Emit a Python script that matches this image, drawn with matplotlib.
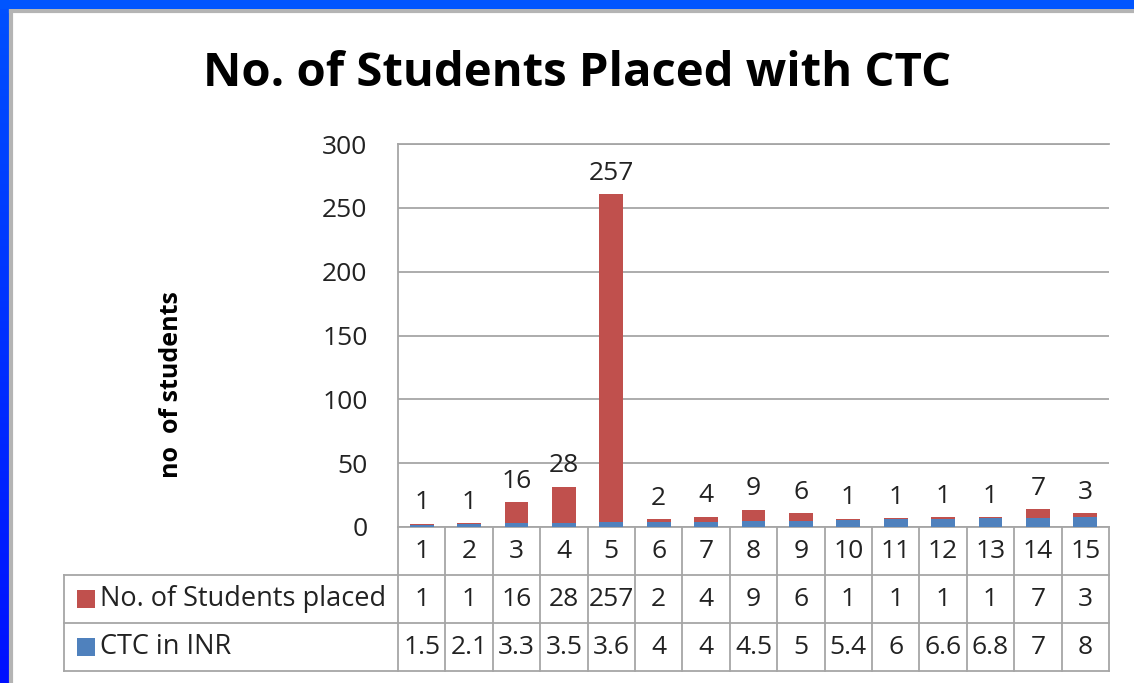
import matplotlib
matplotlib.use("Agg")
import matplotlib.pyplot as plt
import matplotlib.transforms as mtransforms
from matplotlib.lines import Line2D
from matplotlib.patches import Rectangle
from matplotlib.colors import LinearSegmentedColormap
import numpy as np

plt.rcParams['font.family'] = ['Open Sans', 'DejaVu Sans']

categories = [1, 2, 3, 4, 5, 6, 7, 8, 9, 10, 11, 12, 13, 14, 15]
students = [1, 1, 16, 28, 257, 2, 4, 9, 6, 1, 1, 1, 1, 7, 3]
ctc = [1.5, 2.1, 3.3, 3.5, 3.6, 4, 4, 4.5, 5, 5.4, 6, 6.6, 6.8, 7, 8]
series_names = ["No. of Students placed", "CTC in INR"]
yticks = [0, 50, 100, 150, 200, 250, 300]
title = "No. of Students Placed with CTC"
ylabel = "no  of students"

RED = "#C0504D"
BLUE = "#4F81BD"
GRID = "#A6A6A6"
TXT = "#222222"

W, H = 1134, 683
fig = plt.figure(figsize=(W / 100, H / 100), dpi=100)
fig.patch.set_facecolor("white")

# Blue window frame (top and left)
bax = fig.add_axes([0, 0, 9 / W, 1])
grad = np.linspace(0, 1, 100).reshape(-1, 1)
cm = LinearSegmentedColormap.from_list("b", ["#0050FF", "#0010FF"])
bax.imshow(grad, aspect="auto", cmap=cm, extent=[0, 1, 0, 1], origin="upper")
bax.set_axis_off()
fig.patches.append(Rectangle((0, 1 - 9 / H), 1, 9 / H, transform=fig.transFigure,
                             facecolor="#0055FF", edgecolor="none", zorder=5))
fig.lines.append(Line2D([11 / W, 1], [1 - 11 / H, 1 - 11 / H], transform=fig.transFigure,
                        color="#B4B4B4", lw=3, zorder=4))
fig.lines.append(Line2D([11 / W, 11 / W], [0, 1 - 11 / H], transform=fig.transFigure,
                        color="#B4B4B4", lw=3, zorder=4))

left_px, right_px, top_px, bot_px = 398, 1109, 144, 527
ax = fig.add_axes([left_px / W, 1 - bot_px / H, (right_px - left_px) / W, (bot_px - top_px) / H])
x = np.array(categories)
ax.bar(x, ctc, width=0.5, color=BLUE, zorder=3)
ax.bar(x, students, width=0.5, bottom=ctc, color=RED, zorder=3)
for xi, s, c in zip(x, students, ctc):
    ax.annotate(str(s), (xi, s + c), xytext=(0, 6), textcoords="offset points",
                ha="center", va="bottom", fontsize=19, color=TXT)

ax.set_xlim(0.5, 15.5)
ax.set_ylim(0, 300)
ax.set_yticks(yticks)
ax.set_yticklabels([str(v) for v in yticks], fontsize=19, color=TXT)
ax.tick_params(axis="y", length=0, pad=22)
ax.set_xticks([])
ax.yaxis.grid(True, color=GRID, lw=1.3)
ax.set_axisbelow(True)
ax.spines["right"].set_visible(False)
for s in ["left", "bottom", "top"]:
    ax.spines[s].set_color(GRID)
    ax.spines[s].set_linewidth(1.3)

# Data table below the axes
axh = bot_px - top_px
axw = right_px - left_px
row_h = 48 / axh
lab_left = (64 - left_px) / axw
blend = mtransforms.blended_transform_factory(ax.transData, ax.transAxes)
lkw = dict(color=GRID, lw=1.3, clip_on=False)
for k in (1, 2, 3):
    ax.add_line(Line2D([lab_left, 1], [-k * row_h, -k * row_h], transform=ax.transAxes, **lkw))
ax.add_line(Line2D([lab_left, lab_left], [-row_h, -3 * row_h], transform=ax.transAxes, **lkw))
for xb in list(x - 0.5) + [x[-1] + 0.5]:
    ax.add_line(Line2D([xb, xb], [0, -3 * row_h], transform=blend, **lkw))
for xi, s, c in zip(x, students, ctc):
    ax.text(xi, -0.5 * row_h, str(xi), transform=blend, ha="center", va="center",
            fontsize=19, color=TXT, clip_on=False)
    ax.text(xi, -1.5 * row_h, str(s), transform=blend, ha="center", va="center",
            fontsize=19, color=TXT, clip_on=False)
    ax.text(xi, -2.5 * row_h, f"{c:g}", transform=blend, ha="center", va="center",
            fontsize=19, color=TXT, clip_on=False)
sq_w = 18 / axw
sq_h = 18 / axh
sq_x = (77 - left_px) / axw
txt_x = (100 - left_px) / axw
for r, (name, col) in enumerate(zip(series_names, [RED, BLUE])):
    yc = -(1.5 + r) * row_h
    ax.add_patch(Rectangle((sq_x, yc - sq_h / 2), sq_w, sq_h, transform=ax.transAxes,
                           facecolor=col, edgecolor="none", clip_on=False))
    ax.text(txt_x, yc, name, transform=ax.transAxes, ha="left", va="center",
            fontsize=19.5, color=TXT, clip_on=False)

fig.text(577 / W, 1 - 74 / H, title, ha="center", va="center", fontsize=34,
         fontweight="bold", color="black")
fig.text(172 / W, 1 - 385 / H, ylabel, rotation=90, ha="center", va="center",
         fontsize=18, fontweight="bold", color="black")

fig.savefig("out.png", dpi=100)
